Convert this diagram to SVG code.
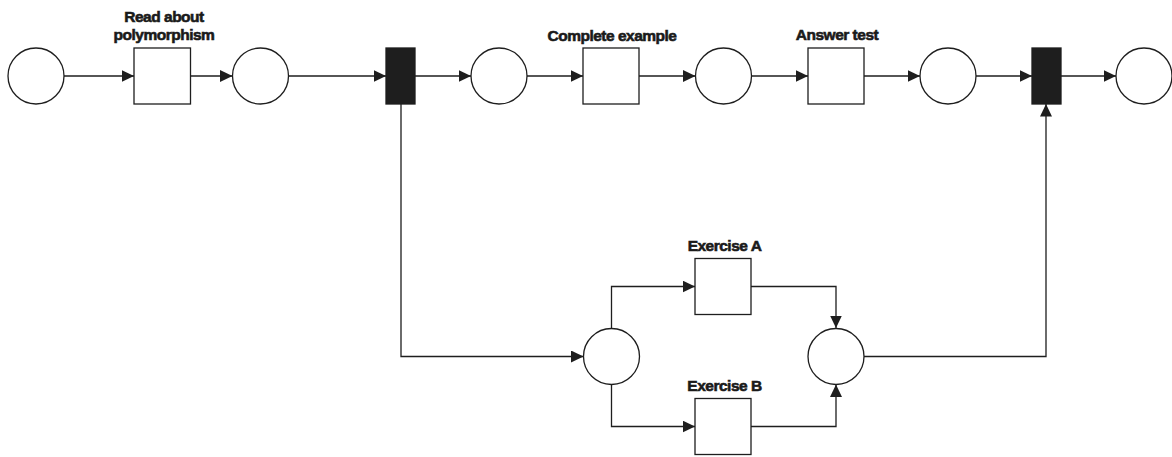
<svg xmlns="http://www.w3.org/2000/svg" width="1172" height="457" viewBox="0 0 1172 457">
<style>
.place{fill:#fff;stroke:#1e1e1e;stroke-width:1.3}
.trans{fill:#fff;stroke:#1e1e1e;stroke-width:1.3}
.bar{fill:#1e1e1e;stroke:#1e1e1e;stroke-width:1.3}
.lbl{font-family:"Liberation Sans",Arial,sans-serif;font-weight:bold;font-size:15.5px;fill:#1a1a1a;stroke:#1a1a1a;stroke-width:0.6;letter-spacing:-0.5px;text-anchor:middle}
.arc{fill:none;stroke:#1e1e1e;stroke-width:1.3;marker-end:url(#ah)}
</style>
<defs>
<marker id="ah" markerUnits="userSpaceOnUse" markerWidth="13" markerHeight="12" refX="12.5" refY="6" orient="auto">
<path d="M0,0 L12.5,6 L0,12 Z" fill="#1e1e1e"/>
</marker>
</defs>
<rect width="1172" height="457" fill="#fff"/>
<g id="connectors">
<path class="arc" d="M64,76 H134"/>
<path class="arc" d="M190,76 H232.5"/>
<path class="arc" d="M288.5,76 H386"/>
<path class="arc" d="M415,76 H471"/>
<path class="arc" d="M527,76 H583"/>
<path class="arc" d="M639,76 H695.5"/>
<path class="arc" d="M751.5,76 H808"/>
<path class="arc" d="M864,76 H920"/>
<path class="arc" d="M976,76 H1032"/>
<path class="arc" d="M1061,76 H1116"/>
<path class="arc" d="M401,104 V356.5 H583.5"/>
<path class="arc" d="M611.5,328.5 V286.5 H695"/>
<path class="arc" d="M611.5,384.5 V426.5 H695"/>
<path class="arc" d="M751,286.5 H836 V328"/>
<path class="arc" d="M751,426.5 H836 V384.5"/>
<path class="arc" d="M864,356.5 H1046 V104"/>
</g>
<g id="p1"><circle class="place" cx="36" cy="76" r="28"/></g>
<g id="t-read"><rect class="trans" x="134" y="48" width="56.5" height="56"/>
<text class="lbl" x="164" y="22">Read about</text>
<text class="lbl" x="164" y="40">polymorphism</text></g>
<g id="p2"><circle class="place" cx="260.5" cy="76" r="28"/></g>
<g id="t-split"><rect class="bar" x="386" y="48" width="29" height="56"/></g>
<g id="p3"><circle class="place" cx="499" cy="76" r="28"/></g>
<g id="t-complete"><rect class="trans" x="583" y="48" width="56" height="56"/>
<text class="lbl" x="612" y="40.5">Complete example</text></g>
<g id="p4"><circle class="place" cx="723.5" cy="76" r="28"/></g>
<g id="t-answer"><rect class="trans" x="808" y="48" width="56" height="56"/>
<text class="lbl" x="837" y="40">Answer test</text></g>
<g id="p5"><circle class="place" cx="948" cy="76" r="28"/></g>
<g id="t-join"><rect class="bar" x="1032" y="48" width="29" height="56"/></g>
<g id="p6"><circle class="place" cx="1144" cy="76" r="28"/></g>
<g id="p7"><circle class="place" cx="611.5" cy="356.5" r="28"/></g>
<g id="t-exA"><rect class="trans" x="695" y="258.5" width="56" height="56"/>
<text class="lbl" x="724.5" y="251">Exercise A</text></g>
<g id="t-exB"><rect class="trans" x="695" y="398.5" width="56" height="56"/>
<text class="lbl" x="724.5" y="391">Exercise B</text></g>
<g id="p8"><circle class="place" cx="836" cy="356.5" r="28"/></g>
</svg>
